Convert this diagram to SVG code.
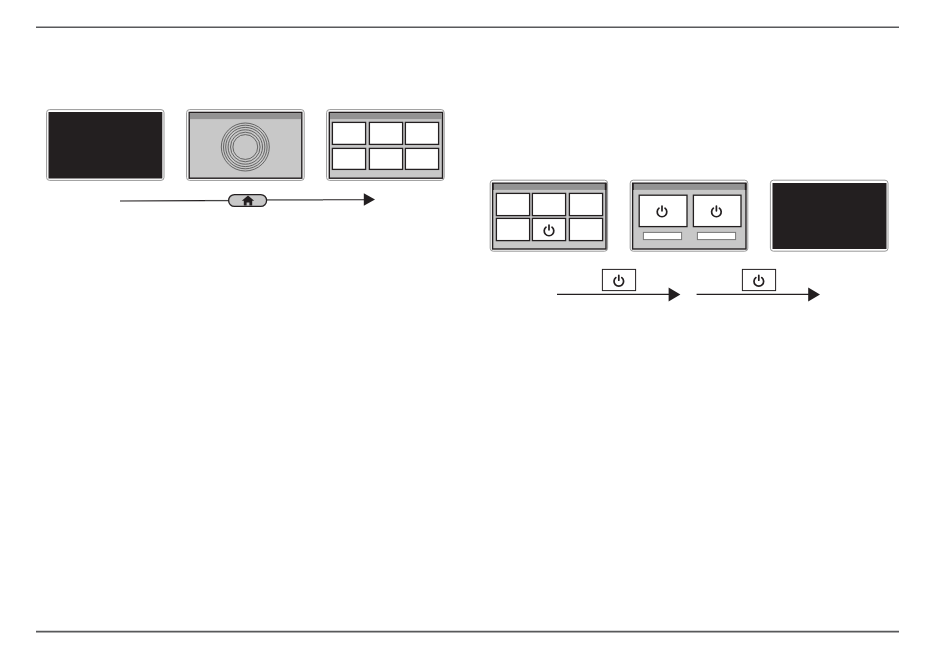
<svg xmlns="http://www.w3.org/2000/svg" width="950" height="657" viewBox="0 0 950 657">
<style>
.frame{fill:#fff;stroke:#999;stroke-width:1}
.dark{fill:#231f20;stroke:none}
.screen{fill:#c8c8c8;stroke:#231f20;stroke-width:1.4}
.bar{fill:#939393;stroke:none}
.cell{fill:#fff;stroke:#231f20;stroke-width:1.3}
.slot{fill:#fff;stroke:#777;stroke-width:1}
.ring{fill:none;stroke:#4a4a4a;stroke-width:.8}
.rule{stroke:#58595b;stroke-width:1.6;fill:none}
.line{stroke:#231f20;stroke-width:1.1;fill:none}
.btn{fill:#fff;stroke:#231f20;stroke-width:1}
.pw{fill:none;stroke:#231f20;stroke-width:1.7;stroke-linecap:round}
.head{fill:#231f20}
</style>
<defs>
<g id="power"><path class="pw" d="M-3-3.2A4.8 4.8 0 1 0 3-3.2"/><path class="pw" d="M0-5.4V-.6"/></g>
</defs>
<g id="rule-top"><path class="rule" d="M36 27.2H899"/></g>
<g id="rule-bottom"><path class="rule" d="M36 631.6H899"/></g>
<g id="left-screen-off">
<rect class="frame" x="46.6" y="109.6" width="117.4" height="70.8" rx="3"/>
<rect class="dark" x="48.5" y="112" width="113.8" height="66.5"/>
</g>
<g id="left-screen-logo">
<rect class="frame" x="186.6" y="109.6" width="117.6" height="70.8" rx="3"/>
<rect class="screen" x="189.2" y="112.4" width="112.6" height="65.8"/>
<rect class="bar" x="189.9" y="113.1" width="111.2" height="6"/>
<circle class="ring" cx="245.3" cy="147" r="24"/>
<circle class="ring" cx="245.3" cy="147" r="21.8"/>
<circle class="ring" cx="245.3" cy="147" r="19.6"/>
<circle class="ring" cx="245.3" cy="147" r="17.2"/>
<circle class="ring" cx="245.3" cy="147" r="14.8"/>
<circle class="ring" cx="245.3" cy="147" r="12.4"/>
</g>
<g id="left-screen-menu">
<rect class="frame" x="326.6" y="109.6" width="117.6" height="70.8" rx="3"/>
<rect class="screen" x="329.3" y="112.4" width="113.2" height="65.8"/>
<rect class="bar" x="330" y="113.1" width="111.8" height="6"/>
<rect class="cell" x="332.4" y="122.4" width="33.2" height="22"/>
<rect class="cell" x="369.4" y="122.4" width="33.2" height="22"/>
<rect class="cell" x="405.4" y="122.4" width="33.2" height="22"/>
<rect class="cell" x="332.4" y="148.4" width="33.2" height="21"/>
<rect class="cell" x="369.4" y="148.4" width="33.2" height="21"/>
<rect class="cell" x="405.4" y="148.4" width="33.2" height="21"/>
</g>
<g id="right-screen-menu">
<rect class="frame" x="490.2" y="180.2" width="117.4" height="71" rx="3"/>
<rect class="screen" x="492.6" y="183.2" width="113.4" height="65.8"/>
<rect class="bar" x="493.3" y="183.9" width="112" height="6"/>
<rect class="dark" x="492.2" y="183" width="1.6" height="7"/>
<rect class="dark" x="604.8" y="183" width="1.6" height="7"/>
<rect class="cell" x="496.4" y="193.4" width="33.2" height="22.2"/>
<rect class="cell" x="532.4" y="193.4" width="33.2" height="22.2"/>
<rect class="cell" x="569.4" y="193.4" width="33.2" height="22.2"/>
<rect class="cell" x="496.4" y="218.4" width="33.2" height="22.2"/>
<rect class="cell" x="532.4" y="218.4" width="33.2" height="22.2"/>
<rect class="cell" x="569.4" y="218.4" width="33.2" height="22.2"/>
<use href="#power" x="549" y="230.4"/>
</g>
<g id="right-screen-confirm">
<rect class="frame" x="630.2" y="180.2" width="117.6" height="71" rx="3"/>
<rect class="screen" x="632.6" y="183.2" width="113.4" height="65.8"/>
<rect class="bar" x="633.3" y="183.9" width="112" height="6"/>
<rect class="dark" x="632.2" y="183" width="1.6" height="7"/>
<rect class="dark" x="744.8" y="183" width="1.6" height="7"/>
<rect class="cell" x="639.2" y="195.2" width="47.8" height="31.4"/>
<rect class="cell" x="693.4" y="195.2" width="47.6" height="31.4"/>
<rect class="slot" x="643.4" y="232.4" width="38.2" height="7.2"/>
<rect class="slot" x="697.4" y="232.4" width="38.2" height="7.2"/>
<use href="#power" x="662" y="211.4"/>
<use href="#power" x="716.4" y="211.4"/>
</g>
<g id="right-screen-off">
<rect class="frame" x="770.4" y="180.2" width="117.6" height="71" rx="3"/>
<rect class="dark" x="772.5" y="183" width="114" height="66"/>
</g>
<g id="connectors">
<path class="line" d="M120 201L205 200.6"/>
<path stroke="#444" stroke-width="1.3" fill="none" d="M205 200.6H228.5"/>
<path stroke="#777" stroke-width="1.8" fill="none" d="M266.5 199.9H323"/>
<path class="line" d="M323 199.7H364"/>
<path class="head" d="M363.8 193.2L375 199.6L363.8 205.8Z"/>
<path class="line" d="M557 294.4H669"/>
<path class="head" d="M668.6 287.6L680.4 294.4L668.6 301.4Z"/>
<path class="line" d="M696.6 294.4H809"/>
<path class="head" d="M808.2 287.6L820 294.4L808.2 301.4Z"/>
</g>
<g id="home-button">
<rect x="228.6" y="194.6" width="38" height="11.8" rx="5.9" fill="#c8c8c8" stroke="#231f20" stroke-width="1.3"/>
<path fill="#231f20" d="M248 195.4L254.2 200.8H252.2V205.6H249.4V202.4H246.6V205.6H243.8V200.8H241.8Z"/>
</g>
<g id="power-button-1">
<rect class="btn" x="602.4" y="269.4" width="33.2" height="21.2"/>
<use href="#power" x="618.8" y="280.8"/>
</g>
<g id="power-button-2">
<rect class="btn" x="742.4" y="269.4" width="33.2" height="21.2"/>
<use href="#power" x="758.8" y="280.8"/>
</g>
</svg>
